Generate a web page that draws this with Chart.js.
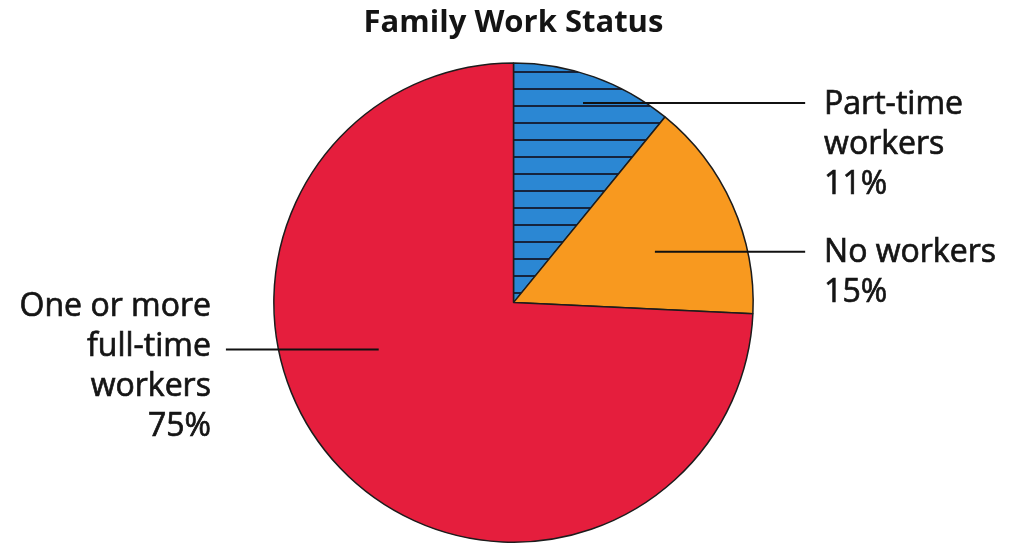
<!DOCTYPE html>
<html>
<head>
<meta charset="utf-8">
<title>Family Work Status</title>
<script src="https://cdn.jsdelivr.net/npm/chart.js@4/dist/chart.umd.min.js"></script>
<style>
  html, body { margin: 0; padding: 0; background: #fff; }
  #wrap { width: 1011px; height: 544px; position: relative; }
</style>
</head>
<body>
<div id="wrap"><canvas id="workChart"></canvas></div>
<script>
// Slices, clockwise from 12 o'clock
const categories = ['Part-time workers', 'No workers', 'One or more full-time workers'];
const shares = [11, 15, 75];
const labelLines = [
    ['Part-time', 'workers'],
    ['No workers'],
    ['One or more', 'full-time', 'workers']
];
const sliceColors = ['#2b87d3', '#f8991f', '#e51e3d'];

// Horizontal stripes for the part-time slice
function stripePattern(base, stripe) {
    const c = document.createElement('canvas');
    c.width = 17;
    c.height = 17;
    const g = c.getContext('2d');
    g.fillStyle = base;
    g.fillRect(0, 0, 17, 17);
    g.fillStyle = stripe;
    g.fillRect(0, 3, 17, 2);
    return g.createPattern(c, 'repeat');
}

const ctx = document.getElementById('workChart').getContext('2d');
const fills = sliceColors.slice();
fills[0] = stripePattern(sliceColors[0], '#16243d');

// Leader lines + text, positioned relative to the pie (units of radius)
const leaderSpec = [
    { side: 'right', y: -0.833, from: 0.29, to: 1.217, text: 1.296, anchorLine: 0, drop: 11 },
    { side: 'right', y: -0.2125, from: 0.59, to: 1.217, text: 1.296, anchorLine: 0, drop: 10 },
    { side: 'left', y: 0.196, from: -0.5625, to: -1.2, text: -1.2625, anchorLine: 1, drop: 6 }
];

const calloutPlugin = {
    id: 'callouts',
    afterDatasetsDraw(chart) {
        const meta = chart.getDatasetMeta(0);
        const c = chart.ctx;
        const lineH = 40;
        meta.data.forEach(function(arc, i) {
            const spec = leaderSpec[i];
            const r = arc.outerRadius;
            const ly = arc.y + spec.y * r;
            c.save();
            c.strokeStyle = '#111';
            c.lineWidth = 2;
            c.beginPath();
            c.moveTo(arc.x + spec.from * r, ly);
            c.lineTo(arc.x + spec.to * r, ly);
            c.stroke();

            const lines = labelLines[i].concat([shares[i] + '%']);
            c.fillStyle = '#151515';
            c.strokeStyle = '#151515';
            c.lineWidth = 0.7;
            c.font = '32px "Open Sans", sans-serif';
            c.textBaseline = 'alphabetic';
            c.textAlign = spec.side === 'right' ? 'left' : 'right';
            const tx = arc.x + spec.text * r;
            const firstBase = ly + spec.drop - spec.anchorLine * lineH;
            lines.forEach(function(t, k) {
                // slight stroke gives the labels a medium weight
                c.fillText(t, tx, firstBase + k * lineH);
                c.strokeText(t, tx, firstBase + k * lineH);
            });
            c.restore();
        });
    }
};

new Chart(ctx, {
    type: 'pie',
    data: {
        labels: categories,
        datasets: [{
            data: shares,
            backgroundColor: fills,
            borderColor: '#1c1c1c',
            borderWidth: 1.5,
            hoverOffset: 0
        }]
    },
    options: {
        responsive: true,
        maintainAspectRatio: false,
        animation: false,
        events: [],
        layout: {
            padding: { top: 0, bottom: 1, left: 273, right: 257 }
        },
        plugins: {
            legend: { display: false },
            tooltip: { enabled: false },
            title: {
                display: true,
                text: 'Family Work Status',
                color: '#141414',
                font: { family: '"Open Sans", sans-serif', size: 31, weight: 'bold', lineHeight: 1.2 },
                padding: { top: 5, bottom: 20 }
            }
        }
    },
    plugins: [calloutPlugin]
});
</script>
</body>
</html>
